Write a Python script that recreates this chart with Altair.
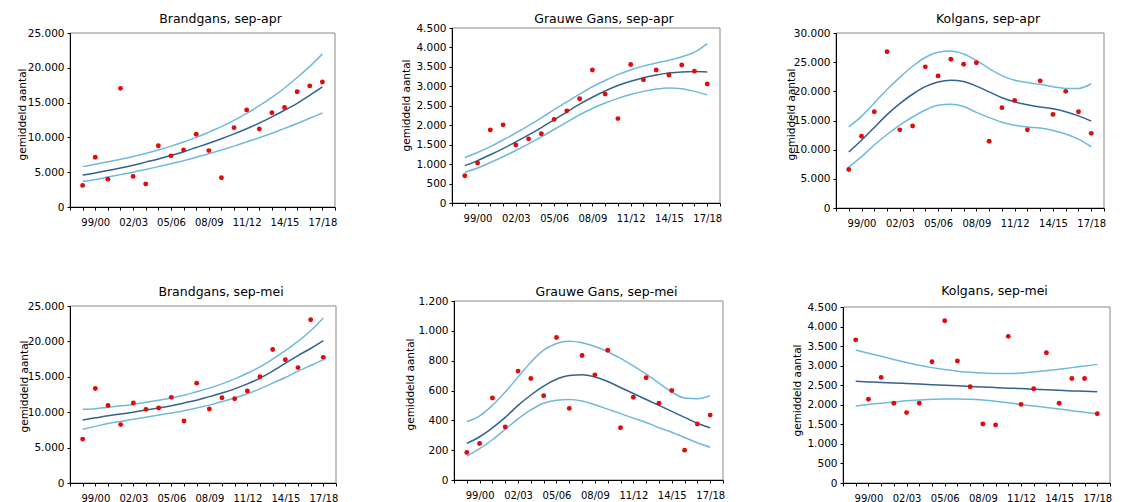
import altair as alt
import pandas as pd

seasons = ['98/99', '99/00', '00/01', '01/02', '02/03', '03/04', '04/05', '05/06', '06/07', '07/08',
           '08/09', '09/10', '10/11', '11/12', '12/13', '13/14', '14/15', '15/16', '16/17', '17/18']
label_idx = [1, 4, 7, 10, 13, 16, 19]

# Brandgans, sep-apr
bg_apr_pts = [3100, 7150, 4000, 17050, 4400, 3300, 8800, 7350, 8200, 10450,
              8100, 4200, 11400, 13950, 11200, 13550, 14300, 16550, 17400, 17950]
bg_apr_up = [5800, 6150, 6500, 6850, 7250, 7700, 8200, 8750, 9350, 10000,
             10750, 11550, 12450, 13450, 14550, 15750, 17100, 18600, 20200, 22000]
bg_apr_tr = [4600, 4900, 5250, 5600, 6000, 6450, 6900, 7400, 7950, 8550,
             9150, 9800, 10500, 11250, 12050, 12950, 13900, 14900, 16050, 17250]
bg_apr_lo = [3650, 3950, 4300, 4650, 5000, 5400, 5800, 6200, 6650, 7150,
             7650, 8200, 8750, 9350, 9950, 10600, 11300, 12000, 12750, 13500]

# Grauwe Gans, sep-apr
gg_apr_pts = [700, 1030, 1880, 2010, 1490, 1650, 1780, 2150, 2370, 2680,
              3420, 2800, 2170, 3560, 3170, 3420, 3290, 3550, 3390, 3060]
gg_apr_up = [1170, 1300, 1450, 1620, 1800, 1990, 2190, 2400, 2600, 2800,
             2990, 3150, 3300, 3420, 3520, 3600, 3670, 3760, 3880, 4100]
gg_apr_tr = [960, 1090, 1240, 1400, 1570, 1750, 1940, 2140, 2340, 2540,
             2720, 2880, 3020, 3130, 3220, 3290, 3340, 3370, 3380, 3370]
gg_apr_lo = [790, 900, 1040, 1190, 1350, 1520, 1700, 1890, 2080, 2270,
             2430, 2570, 2690, 2790, 2870, 2930, 2960, 2940, 2870, 2780]

# Kolgans, sep-apr
kg_apr_pts = [6600, 12300, 16500, 26800, 13400, 14050, 24200, 22650, 25500, 24650,
              24900, 11450, 17200, 18450, 13400, 21800, 16050, 20000, 16500, 12800]
kg_apr_up = [13900, 15700, 18000, 20300, 22400, 24300, 25800, 26700, 26900, 26400,
             25300, 23900, 22700, 21900, 21500, 21200, 20800, 20500, 20500, 21300]
kg_apr_tr = [9600, 11600, 13800, 16000, 17900, 19500, 20800, 21600, 21900, 21700,
             20900, 19900, 18900, 18200, 17700, 17300, 17000, 16500, 15800, 14900]
kg_apr_lo = [7000, 8800, 10800, 12600, 14200, 15600, 16800, 17600, 17800, 17400,
             16400, 15500, 14700, 14200, 13900, 13700, 13300, 12700, 11800, 10500]

# Brandgans, sep-mei
bg_mei_pts = [6200, 13350, 10950, 8250, 11300, 10400, 10600, 12100, 8750, 14100,
              10450, 12050, 11900, 13000, 15000, 18850, 17400, 16300, 23050, 17750]
bg_mei_up = [10400, 10500, 10700, 10900, 11100, 11400, 11700, 12000, 12400, 12900,
             13400, 14000, 14700, 15500, 16400, 17500, 18700, 20000, 21500, 23300]
bg_mei_tr = [8900, 9200, 9500, 9750, 10000, 10300, 10600, 10900, 11300, 11700,
             12200, 12700, 13300, 14000, 14800, 15800, 16900, 18000, 19000, 20100]
bg_mei_lo = [7600, 8000, 8400, 8700, 9000, 9300, 9600, 9900, 10200, 10600,
             11000, 11500, 12000, 12600, 13300, 14100, 14900, 15800, 16600, 17400]

# Grauwe Gans, sep-mei
gg_mei_pts = [185, 245, 550, 355, 730, 680, 565, 955, 480, 835,
              705, 870, 350, 555, 685, 515, 600, 200, 375, 435]
gg_mei_up = [390, 430, 500, 590, 690, 790, 870, 915, 930, 920,
             895, 860, 815, 765, 710, 650, 590, 550, 545, 565]
gg_mei_tr = [245, 290, 350, 420, 500, 570, 630, 675, 700, 705,
             690, 660, 620, 580, 540, 500, 460, 420, 380, 350]
gg_mei_lo = [160, 210, 270, 340, 410, 470, 515, 535, 540, 530,
             505, 475, 445, 415, 385, 350, 320, 285, 250, 220]

# Kolgans, sep-mei
kg_mei_pts = [3660, 2140, 2700, 2040, 1800, 2040, 3100, 4150, 3120, 2460,
              1510, 1485, 3750, 2010, 2410, 3330, 2040, 2670, 2670, 1770]
kg_mei_up = [3400, 3320, 3240, 3160, 3080, 3010, 2950, 2900, 2860, 2830,
             2810, 2800, 2800, 2810, 2840, 2870, 2910, 2950, 2990, 3030]
kg_mei_tr = [2600, 2585, 2570, 2560, 2545, 2530, 2515, 2500, 2485, 2470,
             2455, 2440, 2425, 2415, 2400, 2385, 2370, 2355, 2345, 2330]
kg_mei_lo = [1970, 2010, 2040, 2070, 2100, 2120, 2140, 2150, 2150, 2140,
             2120, 2090, 2050, 2010, 1970, 1930, 1890, 1850, 1810, 1770]

FONT = 'DejaVu Sans'
RED = '#e00b0b'
DARK = '#33628f'
LIGHT = '#6fb9dc'
FRAME = '#888888'

season_arr = '[' + ','.join("'%s'" % s for s in seasons) + ']'
lab_arr = '[' + ','.join(str(i) for i in label_idx) + ']'
x_label_expr = f"indexof({lab_arr}, datum.value) >= 0 ? {season_arr}[datum.value] : ''"
y_label_expr = "replace(format(datum.value, ',d'), ',', '.')"
X_MIN, X_MAX = -1, 20


def panel(title, pts, up, tr, lo, ymax, ystep, w, h, shift, tx, ty, toff):
    df = pd.DataFrame({'i': list(range(len(seasons))), 'season': seasons,
                       'pts': pts, 'up': up, 'tr': tr, 'lo': lo})
    frame_df = pd.DataFrame({'x0': [X_MIN], 'x1': [X_MAX], 'y0': [0], 'y1': [ymax]})
    total_h = h + shift
    xscale = alt.Scale(domain=[X_MIN, X_MAX], nice=False, zero=False)
    xaxis = alt.Axis(values=list(range(X_MIN, X_MAX + 1)), labelExpr=x_label_expr,
                     labelOverlap=False, title=None, tickSize=3, grid=False,
                     labelPadding=7, labelFontSize=10, zindex=1)
    yscale = alt.Scale(domain=[0, ymax], range=[total_h, shift], nice=False, zero=True)
    yaxis = alt.Axis(values=list(range(0, ymax + 1, ystep)), labelExpr=y_label_expr,
                     title='gemiddeld aantal', titleX=tx, titleY=ty + shift, titleAngle=270,
                     titleAlign='center', titleBaseline='middle', tickSize=3, grid=False,
                     labelPadding=3, labelFontSize=10.5, labelOverlap=False, zindex=1)

    frame = alt.Chart(frame_df).mark_rect(filled=False, stroke=FRAME, strokeWidth=1).encode(
        x=alt.X('x0:Q', scale=xscale, axis=xaxis), x2='x1:Q',
        y=alt.Y('y0:Q', scale=yscale, axis=yaxis), y2='y1:Q')

    base = alt.Chart(df)

    def line(field, color):
        return base.mark_line(color=color, strokeWidth=1.5, interpolate='monotone').encode(
            x=alt.X('i:Q', scale=xscale, axis=xaxis),
            y=alt.Y(f'{field}:Q', scale=yscale, axis=yaxis))

    dots = base.mark_circle(size=24, color=RED, opacity=1).encode(
        x=alt.X('i:Q', scale=xscale, axis=xaxis),
        y=alt.Y('pts:Q', scale=yscale, axis=yaxis))
    return alt.layer(frame, line('up', LIGHT), line('lo', LIGHT), line('tr', DARK), dots).properties(
        width=w, height=total_h,
        title=alt.TitleParams(title, offset=toff, dx=18, anchor='middle', frame='group',
                              baseline='alphabetic', fontSize=12.5, fontWeight='normal',
                              font=FONT, color='black'))


p1 = panel('Brandgans, sep-apr', bg_apr_pts, bg_apr_up, bg_apr_tr, bg_apr_lo, 25000, 5000, 265, 174, 5, -48, 81, -7)
p2 = panel('Grauwe Gans, sep-apr', gg_apr_pts, gg_apr_up, gg_apr_tr, gg_apr_lo, 4500, 500, 268, 175, 0, -46, 77, -12)
p3 = panel('Kolgans, sep-apr', kg_apr_pts, kg_apr_up, kg_apr_tr, kg_apr_lo, 30000, 5000, 268, 175, 5, -45, 81, -7)
p4 = panel('Brandgans, sep-mei', bg_mei_pts, bg_mei_up, bg_mei_tr, bg_mei_lo, 25000, 5000, 266, 177, 5, -46, 80, -7)
p5 = panel('Grauwe Gans, sep-mei', gg_mei_pts, gg_mei_up, gg_mei_tr, gg_mei_lo, 1200, 200, 269, 179, 0, -44, 83, -12)
p6 = panel('Kolgans, sep-mei', kg_mei_pts, kg_mei_up, kg_mei_tr, kg_mei_lo, 4500, 500, 267, 176, 6, -46, 83, -6)

row1 = alt.hconcat(p1, p2, p3, spacing=64, bounds='full')
row2 = alt.hconcat(p4, p5, p6, spacing=67, bounds='full')

chart = alt.vconcat(row1, row2, spacing=56, bounds='full').properties(
    padding={'left': 17, 'top': 12, 'right': 5, 'bottom': 2},
    background='white'
).configure_view(
    stroke='transparent', strokeWidth=0
).configure_axis(
    domainColor='black', tickColor='black', labelColor='black', titleColor='black',
    labelFont=FONT, titleFont=FONT, titleFontSize=10.5, titleFontWeight='normal',
    grid=False, domainWidth=1, tickWidth=1
)

chart.save('out.html', embed_options={'renderer': 'svg', 'actions': False})
